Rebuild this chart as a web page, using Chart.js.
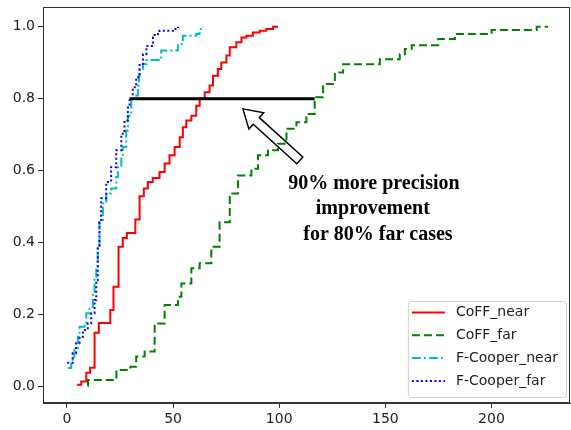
<!DOCTYPE html>
<html>
<head>
<meta charset="utf-8">
<script src="https://cdn.jsdelivr.net/npm/chart.js@4"></script>
<style>
  html, body { margin: 0; padding: 0; background: #fff; }
  #wrap { width: 571px; height: 430px; }
</style>
</head>
<body>
<div id="wrap"><canvas id="cdfChart" width="571" height="430"></canvas></div>
<script>
// axis ticks
const xTicks = [0, 50, 100, 150, 200];
const yTicks = [0, 0.2, 0.4, 0.6, 0.8, 1.0];

// series (step points)
const coffNearX = [4.7, 6.7, 9.1, 10.9, 13.0, 15.0, 20.4, 21.9, 24.3, 26.3, 28.2, 32.2, 34.2, 36.2, 38.1, 40.4, 43.6, 46.0, 48.3, 50.7, 53.1, 54.6, 56.2, 58.6, 60.9, 62.5, 64.9, 67.2, 68.8, 71.1, 72.7, 75.1, 76.7, 79.8, 82.2, 84.5, 87.6, 90.8, 93.9, 97.1, 99.4];
const coffNearY = [0.006, 0.015, 0.039, 0.053, 0.150, 0.177, 0.213, 0.278, 0.389, 0.413, 0.427, 0.465, 0.529, 0.551, 0.569, 0.580, 0.597, 0.620, 0.643, 0.666, 0.693, 0.721, 0.740, 0.753, 0.781, 0.800, 0.818, 0.837, 0.864, 0.883, 0.901, 0.920, 0.943, 0.957, 0.970, 0.975, 0.984, 0.989, 0.994, 1.0, 1.0];

const coffFarX = [9.7, 9.9, 23.3, 29.9, 32.6, 36.6, 41.3, 46.0, 52.3, 53.9, 58.6, 62.5, 68.0, 71.9, 76.7, 80.6, 86.9, 90.0, 94.7, 99.4, 103.4, 108.1, 112.8, 116.7, 120.7, 126.2, 130.1, 147.4, 156.8, 159.2, 162.4, 174.9, 182.8, 200.1, 221.3, 226.7];
const coffFarY = [0.003, 0.019, 0.047, 0.056, 0.084, 0.098, 0.176, 0.227, 0.250, 0.287, 0.329, 0.343, 0.389, 0.457, 0.537, 0.587, 0.606, 0.643, 0.657, 0.675, 0.717, 0.735, 0.758, 0.804, 0.841, 0.873, 0.896, 0.910, 0.924, 0.938, 0.949, 0.966, 0.980, 0.991, 1.0, 1.0];

const fcNearX = [0.4, 2.0, 3.5, 5.1, 5.9, 8.3, 9.1, 10.6, 12.2, 13.0, 13.8, 14.5, 15.3, 16.9, 18.5, 20.8, 23.2, 24.0, 25.6, 26.3, 27.9, 28.7, 30.3, 31.8, 33.4, 33.9, 34.2, 35.8, 37.4, 44.4, 52.3, 54.6, 60.9, 62.5, 64.1];
const fcNearY = [0.052, 0.075, 0.107, 0.139, 0.167, 0.176, 0.204, 0.222, 0.264, 0.306, 0.333, 0.389, 0.463, 0.509, 0.537, 0.551, 0.583, 0.610, 0.638, 0.666, 0.712, 0.753, 0.795, 0.809, 0.837, 0.864, 0.883, 0.897, 0.908, 0.934, 0.952, 0.975, 0.980, 0.994, 1.0];

const fcFarX = [0.1, 2.7, 4.3, 5.9, 7.5, 9.8, 11.4, 13.0, 13.8, 14.5, 15.3, 16.1, 18.5, 20.8, 23.2, 25.6, 27.1, 28.7, 29.5, 31.0, 32.6, 34.2, 35.8, 37.4, 40.5, 41.3, 43.6, 49.9, 52.3];
const fcFarY = [0.067, 0.093, 0.121, 0.139, 0.158, 0.176, 0.204, 0.241, 0.296, 0.389, 0.463, 0.524, 0.569, 0.610, 0.657, 0.703, 0.740, 0.776, 0.800, 0.832, 0.860, 0.897, 0.924, 0.947, 0.970, 0.980, 0.989, 0.994, 1.0];

// gap marker at 80%
const gapX = [29.5, 116.7];
const gapY = [0.8, 0.8];

// annotation (data coords)
const arrowTip = [82.9, 0.772];
const arrowTail = [109.7, 0.629];
const noteLines = ['90% more precision', 'improvement', 'for 80% far cases'];
const noteX = [144.6, 144.1, 146.5];
const noteY = [0.565, 0.493, 0.421];

const pts = (xs, ys) => xs.map((x, i) => ({ x, y: ys[i] }));
const tickFont = { family: 'DejaVu Sans', size: 14 };

const series = [
  { label: 'CoFF_near', data: pts(coffNearX, coffNearY), borderColor: '#ff0000', borderDash: [], order: 4 },
  { label: 'CoFF_far', data: pts(coffFarX, coffFarY), borderColor: '#008000', borderDash: [8, 4], order: 3 },
  { label: 'F-Cooper_near', data: pts(fcNearX, fcNearY), borderColor: '#00bfbf', borderDash: [9, 3, 2, 3], order: 2 },
  { label: 'F-Cooper_far', data: pts(fcFarX, fcFarY), borderColor: '#0000ff', borderDash: [2, 2.5], order: 1 },
];

const extras = {
  id: 'extras',
  beforeDatasetsDraw(chart) {
    const { ctx, scales: { x, y } } = chart;
    // hollow arrow
    const tx = x.getPixelForValue(arrowTip[0]), ty = y.getPixelForValue(arrowTip[1]);
    const ex = x.getPixelForValue(arrowTail[0]), ey = y.getPixelForValue(arrowTail[1]);
    const len = Math.hypot(ex - tx, ey - ty);
    const ux = (ex - tx) / len, uy = (ey - ty) / len;
    const nx = -uy, ny = ux;
    const hl = 18, hw = 11, sw = 4.5;
    const bx = tx + ux * hl, by = ty + uy * hl;
    ctx.save();
    ctx.beginPath();
    ctx.moveTo(tx, ty);
    ctx.lineTo(bx + nx * hw, by + ny * hw);
    ctx.lineTo(bx + nx * sw, by + ny * sw);
    ctx.lineTo(ex + nx * sw, ey + ny * sw);
    ctx.lineTo(ex - nx * sw, ey - ny * sw);
    ctx.lineTo(bx - nx * sw, by - ny * sw);
    ctx.lineTo(bx - nx * hw, by - ny * hw);
    ctx.closePath();
    ctx.fillStyle = '#fff';
    ctx.fill();
    ctx.lineWidth = 1.5;
    ctx.strokeStyle = '#000';
    ctx.stroke();
    ctx.restore();
  },
  afterDraw(chart) {
    const { ctx, chartArea: a, scales: { x, y } } = chart;
    ctx.save();
    // frame
    ctx.strokeStyle = '#333';
    ctx.lineWidth = 1;
    ctx.strokeRect(a.left + 0.5, a.top + 0.5, a.right - a.left - 1, a.bottom - a.top - 1);

    // note text
    ctx.fillStyle = '#000';
    ctx.font = 'bold 20px "Liberation Serif", "Times New Roman", serif';
    ctx.textAlign = 'center';
    ctx.textBaseline = 'middle';
    noteLines.forEach((t, i) => {
      ctx.fillText(t, x.getPixelForValue(noteX[i]), y.getPixelForValue(noteY[i]));
    });

    // legend
    ctx.font = '14px "DejaVu Sans"';
    const tw = Math.max(...series.map(s => ctx.measureText(s.label).width));
    const w = 48 + tw + 8, h = 96;
    const lx = a.right - 4 - w, ly = a.bottom - 6 - h;
    ctx.beginPath();
    ctx.roundRect(lx + 0.5, ly + 0.5, w, h, 3);
    ctx.fillStyle = 'rgba(255,255,255,0.85)';
    ctx.fill();
    ctx.strokeStyle = '#d0d0d0';
    ctx.stroke();
    ctx.textAlign = 'left';
    series.forEach((s, i) => {
      const cy = ly + 11.5 + i * 22.8;
      ctx.beginPath();
      ctx.setLineDash(s.borderDash);
      ctx.strokeStyle = s.borderColor;
      ctx.lineWidth = 2;
      ctx.moveTo(lx + 4, cy);
      ctx.lineTo(lx + 37, cy);
      ctx.stroke();
      ctx.setLineDash([]);
      ctx.fillStyle = '#222';
      ctx.fillText(s.label, lx + 48, cy);
    });
    ctx.restore();
  },
};

new Chart(document.getElementById('cdfChart'), {
  type: 'line',
  data: {
    datasets: [
      ...series.map(s => ({
        ...s, stepped: 'before', borderWidth: 2, pointRadius: 0, fill: false,
      })),
      { label: 'gap', data: pts(gapX, gapY), borderColor: '#000', borderWidth: 3, pointRadius: 0, fill: false, order: 0 },
    ],
  },
  options: {
    responsive: false,
    animation: false,
    layout: { padding: { left: 0, top: 7, right: 1, bottom: 0 } },
    plugins: { legend: { display: false }, tooltip: { enabled: false } },
    scales: {
      x: {
        type: 'linear', min: -11.3, max: 237,
        afterBuildTicks: (s) => { s.ticks = xTicks.map(v => ({ value: v })); },
        afterFit: (s) => { s.height = 27; s.paddingLeft = 0; s.paddingRight = 0; },
        grid: { drawOnChartArea: false, drawTicks: true, tickLength: 5, color: '#333' },
        border: { display: true, color: '#333' },
        ticks: { font: tickFont, color: '#222', padding: 3, maxRotation: 0 },
      },
      y: {
        type: 'linear', min: -0.045, max: 1.055,
        afterBuildTicks: (s) => { s.ticks = yTicks.map(v => ({ value: v })); },
        afterFit: (s) => { s.width = 43; s.paddingTop = 0; s.paddingBottom = 0; },
        grid: { drawOnChartArea: false, drawTicks: true, tickLength: 5, color: '#333' },
        border: { display: true, color: '#333' },
        ticks: { font: tickFont, color: '#222', padding: 3, callback: (v) => Number(v).toFixed(1) },
      },
    },
  },
  plugins: [extras],
});
</script>
</body>
</html>
